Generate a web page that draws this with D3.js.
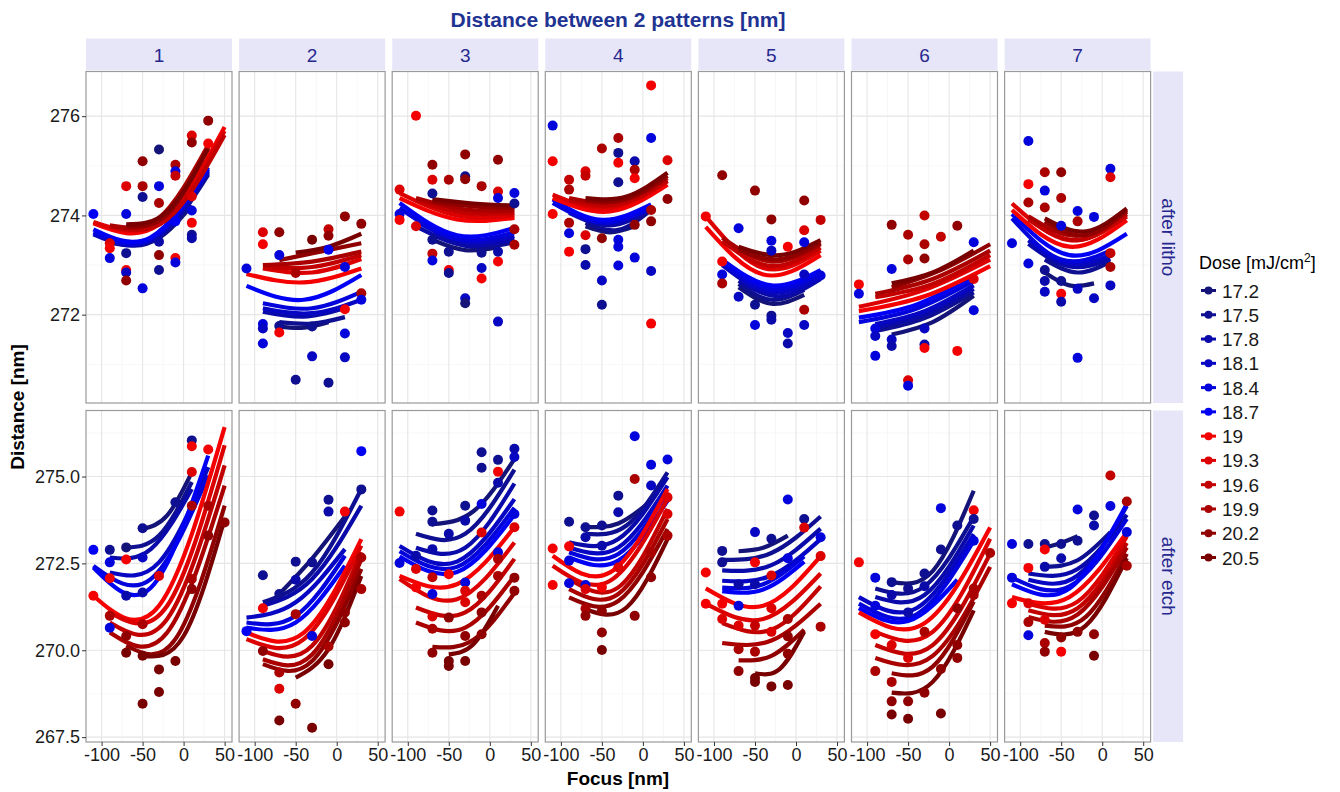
<!doctype html>
<html lang="en">
<head>
<meta charset="UTF-8">
<title>Distance between 2 patterns</title>
<script src="https://d3js.org/d3.v7.min.js"></script>
<style>
  body { margin: 0; background: #fff; }
  text { font-family: "Liberation Sans", Arial, sans-serif; }
</style>
</head>
<body>
<div id="chart"></div>
<script>
// ---- data ----
const doses = ['17.2','17.5','17.8','18.1','18.4','18.7','19','19.3','19.6','19.9','20.2','20.5'];
const doseColors = ['#141478','#0f0f91','#0a0aaa','#0606c3','#0303dc','#0000f5',
                    '#f50000','#dc0000','#c30000','#aa0000','#910000','#780000'];
const fields = ['1','2','3','4','5','6','7'];
const steps = ['after litho','after etch'];
const focusTicks = [-100,-50,0,50];
const focusMinor = [-75,-25,25];
const yTicksLitho = [272,274,276];
const yMinorLitho = [271,273,275];
const yTicksEtch = [267.5,270,272.5,275];
const yMinorEtch = [268.75,271.25,273.75,276.25];

// fitted curves, one row per dose: [focus from, focus to, distance at from, at middle, at to]
const fitL1 = [[-70,10,273.42,273.55,274.2],[-90,30,273.45,273.55,274.82],[-90,30,273.48,273.58,274.86],
  [-110,30,273.62,273.5,274.9],[-110,30,273.66,273.53,274.93],[-110,30,273.72,273.56,274.97],
  [-110,50,273.84,273.82,275.78],[-110,50,273.87,273.87,275.7],[-90,50,273.78,273.92,275.62],
  [-90,30,273.8,273.95,275.42],[-70,30,273.78,274.02,275.38],[-70,30,273.82,274.08,275.35]];
const fitL2 = [[-70,-10,271.76,271.74,271.85],[-70,10,271.85,271.82,271.95],[-90,10,272.06,271.96,272.13],
  [-90,30,272.13,272.03,272.3],[-90,30,272.23,272.13,272.46],[-110,30,272.58,272.3,272.8],
  [-110,30,272.82,272.65,272.93],[-90,30,272.93,272.85,273.12],[-90,30,272.95,272.96,273.2],
  [-90,30,273.0,273.07,273.27],[-70,30,273.1,273.27,273.44],[-50,30,273.25,273.37,273.63]];
const fitL3 = [[-70,10,273.51,273.3,273.36],[-70,30,273.61,273.36,273.46],[-90,30,273.78,273.4,273.52],
  [-90,30,273.88,273.47,273.58],[-110,30,274.15,273.53,273.66],[-110,30,274.25,273.6,273.75],
  [-110,30,274.35,273.92,273.95],[-110,30,274.45,274.0,274.0],[-90,30,274.3,274.05,274.05],
  [-90,30,274.35,274.12,274.1],[-70,30,274.28,274.18,274.15],[-70,30,274.33,274.24,274.2]];
const fitL4 = [[-70,-10,273.78,273.66,273.78],[-70,10,273.85,273.71,274.11],[-90,10,274.05,273.8,274.12],
  [-90,10,274.11,273.85,274.18],[-110,10,274.25,273.86,274.15],[-110,10,274.32,273.91,274.22],
  [-110,30,274.35,274.08,274.62],[-110,30,274.42,274.15,274.69],[-90,30,274.3,274.22,274.7],
  [-90,30,274.35,274.28,274.75],[-70,30,274.3,274.33,274.8],[-70,30,274.35,274.38,274.86]];
const fitL5 = [[-70,10,272.55,272.22,272.4],[-70,10,272.62,272.3,272.5],[-70,30,272.68,272.37,272.72],
  [-90,30,273.0,272.45,272.75],[-90,30,273.05,272.52,272.83],[-90,30,273.11,272.59,272.9],
  [-110,30,273.77,272.81,273.2],[-110,30,273.98,272.94,273.29],[-90,30,273.48,272.98,273.35],
  [-90,30,273.55,273.07,273.42],[-70,30,273.3,273.12,273.45],[-70,30,273.37,273.2,273.5]];
const fitL6 = [[-70,30,271.6,271.85,272.38],[-90,30,271.67,271.93,272.45],[-90,30,271.74,272.0,272.52],
  [-90,30,271.81,272.07,272.59],[-110,30,271.85,272.12,272.68],[-110,30,271.94,272.2,272.77],
  [-110,50,272.07,272.37,272.98],[-110,50,272.16,272.5,273.11],[-90,50,272.35,272.62,273.2],
  [-90,50,272.42,272.72,273.29],[-70,50,272.55,272.9,273.42],[-70,30,272.63,272.85,273.29]];
const fitL7 = [[-70,-10,272.85,272.59,272.63],[-70,10,273.11,272.85,273.07],[-90,10,273.43,272.97,273.12],
  [-90,10,273.5,273.03,273.2],[-110,10,273.94,273.11,273.29],[-110,30,274.03,273.2,273.63],
  [-110,30,274.11,273.37,273.9],[-110,30,274.24,273.5,273.98],[-90,30,273.92,273.5,274.02],
  [-90,30,273.98,273.59,274.07],[-70,30,273.88,273.6,274.1],[-70,30,273.94,273.68,274.14]];

const fitE1 = [[-50,10,273.49,273.88,275.12],[-70,10,272.96,273.3,274.84],[-90,10,272.67,272.91,274.64],
  [-90,30,272.24,272.53,275.27],[-110,30,272.43,272.05,275.03],[-110,30,272.38,271.8,275.6],
  [-110,50,271.57,271.28,276.42],[-90,50,271.09,271.28,275.9],[-90,50,270.8,270.9,275.32],
  [-90,50,270.51,270.51,274.74],[-70,50,270.13,270.32,274.16],[-50,50,269.84,270.41,273.78]];
const fitE2 = [[-70,10,271.62,272.64,273.85],[-90,30,271.38,272.24,274.64],[-90,30,271.28,272.05,274.16],
  [-110,10,270.94,271.38,272.91],[-110,10,270.8,270.99,272.72],[-110,10,270.65,270.8,272.43],
  [-110,30,270.51,270.51,273.2],[-110,30,270.32,270.32,273.01],[-90,30,269.98,270.13,272.82],
  [-90,30,269.74,269.88,272.62],[-90,30,269.6,269.69,272.34],[-50,30,269.21,270.03,272.14]];
const fitE3 = [[-70,30,273.63,274.0,275.5],[-90,30,273.35,273.35,275.2],[-90,30,272.95,272.95,274.8],
  [-110,30,273.0,272.55,274.35],[-110,30,272.85,272.4,274.1],[-110,30,272.7,272.25,273.9],
  [-110,30,272.14,271.9,273.54],[-110,30,272.05,271.47,273.1],[-90,30,271.23,271.09,272.63],
  [-90,30,270.8,270.65,272.14],[-70,30,270.1,270.3,271.65],[-50,10,269.88,270.17,271.28]];
const fitE4 = [[-70,10,273.55,273.65,274.3],[-70,30,273.35,273.59,275.12],[-90,30,273.11,273.2,274.98],
  [-90,30,272.96,272.96,274.74],[-90,30,272.82,272.77,274.55],[-90,30,272.67,272.58,274.31],
  [-110,30,272.72,272.24,274.64],[-110,30,272.43,272.0,274.36],[-90,30,272.05,271.81,274.07],
  [-90,30,271.76,271.62,273.78],[-90,30,271.52,271.42,273.49],[-70,30,271.18,271.23,273.2]];
const fitE5 = [[-70,-10,272.85,272.95,273.3],[-90,30,272.6,272.8,273.85],[-90,30,272.3,272.45,273.5],
  [-90,30,272.0,272.15,273.2],[-90,10,271.8,271.9,272.7],[-90,10,271.7,271.75,272.55],
  [-110,30,271.78,271.28,272.71],[-110,30,271.34,270.9,272.21],[-90,30,270.78,270.59,271.84],
  [-90,30,270.21,270.28,271.34],[-70,10,269.71,269.84,270.59],[-50,10,269.34,269.46,270.53]];
const fitE6 = [[-70,30,271.96,272.28,274.59],[-90,30,271.78,271.84,273.84],[-90,30,271.53,271.59,273.59],
  [-110,30,271.53,271.21,273.34],[-110,30,271.34,271.03,273.15],[-110,10,271.21,270.84,272.03],
  [-110,50,271.09,270.78,273.53],[-90,50,270.53,270.53,273.21],[-90,50,270.15,270.15,272.78],
  [-90,50,269.78,269.84,272.4],[-70,30,269.34,269.53,271.4],[-70,30,268.78,269.09,271.15]];
const fitE7 = [[-70,-30,272.96,273.09,273.28],[-70,10,272.4,272.59,273.4],[-90,30,272.21,272.34,273.9],
  [-90,30,272.03,272.15,274.15],[-110,30,272.09,271.84,273.78],[-110,30,271.9,271.78,274.21],
  [-110,30,271.53,271.53,273.4],[-90,30,271.34,271.4,273.28],[-90,30,271.15,271.21,273.09],
  [-90,30,270.96,271.03,272.96],[-70,30,270.71,270.96,272.78],[-70,30,270.53,270.71,272.65]];

// measured points: [focus, dose index, distance]
const ptsL1 = [[-110,5,274.03],[-30,0,275.33],[-50,10,275.09],[-70,7,274.59],[-50,9,274.59],[-50,1,274.37],
  [-30,4,274.59],[-10,9,275.02],[-10,4,274.89],[-10,8,274.8],[10,7,275.61],[10,10,275.47],[30,10,275.91],
  [30,6,275.45],[-30,9,274.25],[10,4,274.1],[10,6,273.85],[10,1,273.61],[10,2,273.54],[-90,7,273.44],
  [-90,6,273.34],[-90,4,273.14],[-70,4,274.03],[-70,1,273.24],[-70,6,272.9],[-70,3,272.85],[-70,10,272.69],
  [-50,4,272.53],[-30,10,273.2],[-30,1,272.9],[-30,2,273.47],[-10,6,273.14],[-10,4,273.05],[-10,5,273.88],
  [10,7,274.38]];
const ptsL2 = [[10,10,273.98],[30,10,273.83],[-10,8,273.72],[-10,10,273.59],[-30,11,273.51],[-90,7,273.66],
  [-70,10,273.66],[-90,6,273.42],[-70,4,273.2],[-110,4,272.93],[10,4,272.96],[30,9,272.43],[30,4,272.3],
  [10,6,272.11],[-90,4,271.81],[-90,3,271.72],[-70,1,271.77],[-70,6,271.64],[-90,4,271.42],[-30,1,271.76],
  [10,4,271.62],[-30,3,271.16],[10,3,271.14],[-50,1,270.69],[-10,1,270.63],[-10,5,273.31],[-50,9,272.84]];
const ptsL3 = [[-90,6,276.01],[-70,10,275.02],[-30,10,275.23],[10,10,275.12],[-70,7,274.72],[-50,9,274.72],
  [-30,1,274.79],[-30,10,274.73],[-10,9,274.59],[10,7,274.48],[10,4,274.35],[30,4,274.45],[30,1,274.24],
  [-110,7,274.52],[-110,4,274.03],[-110,6,273.91],[-90,7,273.78],[-70,1,274.44],[30,9,273.72],[30,9,273.41],
  [-70,1,273.51],[-70,8,273.23],[-70,4,273.09],[-50,1,273.27],[-50,6,272.9],[-50,1,272.84],[-10,1,273.25],
  [-10,3,272.94],[-10,6,272.73],[10,6,273.07],[10,2,273.27],[-30,3,272.33],[-30,0,272.23],[10,3,271.86]];
const ptsL4 = [[-110,4,275.81],[10,6,276.62],[10,4,275.56],[-30,9,275.56],[-50,9,275.35],[-30,1,275.26],
  [-30,6,275.06],[-10,2,275.09],[-10,9,274.92],[-110,6,275.09],[30,7,275.11],[-70,7,274.89],[-70,8,274.8],
  [-90,8,274.72],[-90,9,274.52],[-10,6,274.75],[-30,1,274.67],[30,10,274.33],[10,9,274.11],[10,10,273.88],
  [-110,6,274.03],[-90,9,273.85],[-90,4,273.64],[-10,10,273.81],[-70,7,273.6],[-50,10,273.54],[-30,4,273.51],
  [-30,4,273.37],[-90,6,273.27],[-70,1,273.32],[-70,2,273.0],[-30,4,272.99],[-10,4,273.15],[10,3,272.88],
  [-50,3,272.69],[-50,1,272.2],[10,6,271.82]];
const ptsL5 = [[-90,10,274.81],[-50,10,274.5],[10,10,274.3],[-30,10,273.92],[30,8,273.91],[-110,6,273.98],
  [-70,4,273.74],[10,7,273.7],[-30,4,273.49],[10,4,273.46],[-10,6,273.37],[-30,3,273.29],[30,4,272.79],
  [10,3,272.81],[-90,6,273.07],[-90,4,272.81],[-90,9,272.63],[-70,3,272.36],[-50,1,272.2],[-30,1,271.98],
  [-30,2,271.9],[-50,4,271.79],[10,9,272.1],[10,3,271.79],[-10,3,271.63],[-10,2,271.42]];
const ptsL6 = [[-30,8,274.0],[-70,10,273.81],[-50,9,273.61],[10,10,273.79],[-10,8,273.57],[-30,9,273.42],
  [-50,9,273.11],[-30,10,273.13],[30,4,273.46],[-70,4,272.92],[-110,6,272.61],[-110,4,272.42],[30,7,272.72],
  [-90,4,271.72],[-90,3,271.57],[-70,3,271.5],[-70,2,271.37],[-30,3,271.72],[-30,2,271.4],[-90,4,271.17],
  [30,4,272.09],[10,6,271.27],[-30,6,271.33],[-50,7,270.68],[-50,4,270.57]];
const ptsL7 = [[-90,4,275.5],[10,4,274.94],[10,7,274.77],[-70,9,274.87],[-50,10,274.87],[-90,6,274.63],
  [-70,4,274.5],[-50,9,274.35],[-90,9,274.26],[-70,9,274.16],[-30,4,274.09],[-10,4,273.97],[-30,9,273.88],
  [-50,4,273.79],[-110,4,273.44],[10,8,273.24],[-90,4,273.03],[10,9,272.96],[-70,1,272.9],[-70,2,272.68],
  [-50,1,272.68],[10,3,272.59],[-70,3,272.46],[-50,6,272.42],[-50,2,272.26],[-30,3,272.52],[-10,3,272.33],
  [-30,4,271.13]];

const ptsE1 = [[-110,5,272.89],[-90,1,272.89],[-70,0,272.96],[-70,6,272.61],[-90,4,272.53],[-50,1,273.51],
  [-50,3,272.67],[-90,6,272.07],[-110,6,271.57],[-70,2,271.57],[-50,2,271.66],[-90,4,270.65],[-90,9,270.99],
  [-70,10,270.41],[-70,11,269.93],[-50,11,269.84],[-30,11,269.45],[-10,11,269.69],[-30,11,268.8],
  [-50,11,268.46],[10,1,276.04],[10,6,275.87],[30,6,275.78],[10,7,275.13],[-10,1,274.26],[10,9,274.16],
  [30,9,274.16],[30,10,273.3],[50,10,273.68],[10,10,271.76],[10,9,272.05],[-30,7,272.14],[-50,9,270.75]];
const ptsE2 = [[30,5,275.73],[30,1,274.63],[-10,1,274.33],[-10,2,273.99],[10,6,273.99],[-50,1,272.55],
  [-30,1,272.53],[-90,1,272.16],[-50,2,272.03],[-70,1,271.62],[-90,6,271.21],[-110,5,270.55],[-50,9,271.04],
  [10,10,271.09],[10,10,270.8],[30,9,271.76],[30,9,272.67],[-10,9,270.11],[-10,11,269.6],[-70,7,268.89],
  [-50,10,268.46],[-70,11,267.98],[-30,11,267.77],[-70,9,269.36],[-90,10,269.98],[-30,4,270.41]];
const ptsE3 = [[-110,6,273.99],[-70,1,274.02],[-70,1,273.7],[-10,1,275.7],[-10,1,275.25],[10,1,275.48],
  [10,6,275.14],[30,2,275.8],[30,3,275.56],[-30,1,274.16],[-30,2,273.73],[-10,4,274.21],[10,2,274.82],
  [-50,2,273.35],[-70,2,272.91],[-90,2,272.72],[-110,4,272.51],[-10,7,273.39],[30,4,273.92],[30,7,273.54],
  [10,4,272.82],[-90,7,272.34],[-50,6,272.19],[-70,8,272.1],[-30,4,271.95],[-90,6,271.81],[-70,4,271.62],
  [-30,7,271.71],[10,9,272.63],[10,9,272.14],[30,10,272.09],[30,10,271.71],[-10,9,271.57],[-30,7,271.38],
  [-10,10,271.09],[-70,7,270.97],[-50,10,270.94],[-70,9,270.62],[-30,10,270.41],[-10,10,270.46],
  [-70,10,269.93],[-50,11,269.69],[-30,11,269.69],[-50,11,269.55]];
const ptsE4 = [[-10,4,276.16],[10,4,275.34],[30,4,275.49],[-10,9,274.93],[10,3,274.74],[-30,1,274.45],
  [-30,2,273.97],[-90,1,273.7],[-70,1,273.54],[-50,1,273.59],[-70,2,273.25],[-50,2,273.01],[-110,6,272.93],
  [-90,6,272.99],[-90,4,272.58],[-110,6,271.88],[-90,4,271.93],[-70,4,271.88],[30,7,274.4],[30,7,273.92],
  [30,9,273.3],[10,9,272.82],[10,10,272.1],[-70,7,271.76],[-50,6,271.81],[-70,9,271.2],[-70,10,270.99],
  [-50,10,271.13],[-10,10,270.99],[-50,10,270.51],[-50,11,270.01],[-30,7,272.38]];
const ptsE5 = [[-10,4,274.34],[-50,3,273.4],[-30,1,273.21],[10,1,273.78],[10,7,273.53],[30,4,273.25],
  [-90,1,272.86],[-10,4,272.65],[-110,6,272.24],[-90,1,272.53],[-50,6,272.53],[-70,2,271.9],[-50,2,271.9],
  [-30,7,272.15],[30,7,272.71],[-110,6,271.34],[-90,6,271.34],[-70,4,271.28],[-30,7,271.21],[-90,7,270.9],
  [-70,7,270.71],[-50,8,270.71],[-10,9,270.9],[30,9,270.68],[-30,7,270.53],[-10,10,270.4],[-70,9,270.03],
  [-50,9,269.96],[-10,10,269.9],[-70,10,269.4],[-50,11,269.2],[-50,11,269.09],[-30,11,268.96],[-10,11,269.0]];
const ptsE6 = [[-110,6,272.53],[-10,4,274.09],[30,6,274.03],[30,1,273.78],[30,4,273.15],[10,1,273.59],
  [-10,1,272.9],[50,9,272.8],[-30,1,272.21],[-90,4,272.09],[-70,1,271.96],[-50,1,271.78],[-30,2,271.84],
  [-70,2,271.59],[-90,4,271.28],[-50,2,271.09],[30,9,271.78],[30,9,271.59],[10,10,271.21],[-90,6,270.46],
  [-70,7,270.15],[-50,7,269.78],[-90,9,269.4],[-70,9,269.09],[-30,9,270.53],[10,10,270.15],[10,10,269.78],
  [-10,10,269.46],[-70,10,268.53],[-50,10,268.53],[-70,11,268.15],[-50,11,268.03],[-10,11,268.18],
  [-30,10,268.78]];
const ptsE7 = [[10,8,275.03],[10,4,274.15],[30,9,274.28],[-30,4,274.05],[-10,1,273.88],[-10,2,273.59],
  [30,4,273.4],[-90,1,273.06],[-110,4,273.06],[-70,1,273.06],[-50,1,273.06],[-70,6,272.9],[-30,1,273.15],
  [-50,2,272.65],[-90,6,272.37],[-110,4,272.09],[-70,2,272.4],[30,9,272.43],[-110,6,271.35],[-90,7,271.35],
  [-70,7,270.88],[-90,9,270.81],[-90,4,270.43],[-50,10,270.37],[-30,10,270.53],[-10,10,270.46],
  [-70,9,270.21],[-70,10,269.96],[-50,6,269.96],[-10,11,269.84]];

const fitRows = [[fitL1,fitL2,fitL3,fitL4,fitL5,fitL6,fitL7],[fitE1,fitE2,fitE3,fitE4,fitE5,fitE6,fitE7]];
const ptRows = [[ptsL1,ptsL2,ptsL3,ptsL4,ptsL5,ptsL6,ptsL7],[ptsE1,ptsE2,ptsE3,ptsE4,ptsE5,ptsE6,ptsE7]];

// ---- layout ----
const width = 1340, height = 792;
const panelLeft = 86, panelW = 146, panelStep = 153.1, panelH = 331.5;
const rowTop = [71.5, 410.5];
const yDomains = [[270.22, 276.9], [267.36, 276.9]];
const focusDomain = [-119, 59];
const stripBlue = '#26288f';

const svg = d3.select('#chart').append('svg')
    .attr('width', width).attr('height', height);
svg.append('rect').attr('width', width).attr('height', height).attr('fill', '#fff');

const line = d3.line().curve(d3.curveNatural);

function styleAxis(g) {
    g.select('.domain').remove();
    g.selectAll('.tick line').attr('stroke', '#333').attr('stroke-width', 1);
    g.selectAll('.tick text').attr('fill', '#1a1a1a').style('font-size', '18px')
        .style('font-family', '"Liberation Sans", Arial, sans-serif');
}

steps.forEach(function(step, r) {
    const top = rowTop[r];
    const y = d3.scaleLinear().domain(yDomains[r]).range([top + panelH, top]);
    const yMajor = r === 0 ? yTicksLitho : yTicksEtch;
    const yMinor = r === 0 ? yMinorLitho : yMinorEtch;

    fields.forEach(function(field, c) {
        const x0 = panelLeft + c * panelStep;
        const x = d3.scaleLinear().domain(focusDomain).range([x0, x0 + panelW]);
        const g = svg.append('g');

        g.append('rect').attr('x', x0).attr('y', top).attr('width', panelW).attr('height', panelH)
            .attr('fill', '#fff');

        // grid
        g.selectAll('.vmin').data(focusMinor).join('line')
            .attr('x1', d => x(d)).attr('x2', d => x(d)).attr('y1', top).attr('y2', top + panelH)
            .attr('stroke', '#f3f3f3').attr('stroke-width', 0.7);
        g.selectAll('.hmin').data(yMinor).join('line')
            .attr('x1', x0).attr('x2', x0 + panelW).attr('y1', d => y(d)).attr('y2', d => y(d))
            .attr('stroke', '#f3f3f3').attr('stroke-width', 0.7);
        g.selectAll('.vmaj').data(focusTicks).join('line')
            .attr('x1', d => x(d)).attr('x2', d => x(d)).attr('y1', top).attr('y2', top + panelH)
            .attr('stroke', '#e6e6e6').attr('stroke-width', 1.1);
        g.selectAll('.hmaj').data(yMajor).join('line')
            .attr('x1', x0).attr('x2', x0 + panelW).attr('y1', d => y(d)).attr('y2', d => y(d))
            .attr('stroke', '#e6e6e6').attr('stroke-width', 1.1);

        // fitted curves, one per dose
        fitRows[r][c].forEach(function(f, k) {
            const pts = [[x(f[0]), y(f[2])], [x((f[0] + f[1]) / 2), y(f[3])], [x(f[1]), y(f[4])]];
            g.append('path').attr('d', line(pts))
                .attr('fill', 'none').attr('stroke', doseColors[k]).attr('stroke-width', 4.2);
        });

        // measured points
        g.selectAll('circle').data(ptRows[r][c]).join('circle')
            .attr('cx', d => x(d[0])).attr('cy', d => y(d[2])).attr('r', 5)
            .attr('fill', d => doseColors[d[1]]);

        g.append('rect').attr('x', x0).attr('y', top).attr('width', panelW).attr('height', panelH)
            .attr('fill', 'none').attr('stroke', '#9a9a9a').attr('stroke-width', 1.2);

        // top strips
        if (r === 0) {
            svg.append('rect').attr('x', x0).attr('y', 38.5).attr('width', panelW).attr('height', 32)
                .attr('fill', '#e6e6f8');
            svg.append('text').attr('x', x0 + panelW / 2).attr('y', 61.5).attr('text-anchor', 'middle')
                .attr('fill', stripBlue).style('font-size', '19px').text(field);
        }
        // bottom axis
        if (r === 1) {
            svg.append('g').attr('transform', 'translate(0,' + (top + panelH) + ')')
                .call(d3.axisBottom(x).tickValues(focusTicks).tickSize(4).tickPadding(2)
                    .tickFormat(d => String(d)))
                .call(styleAxis);
        }
        // left axis
        if (c === 0) {
            svg.append('g').attr('transform', 'translate(' + x0 + ',0)')
                .call(d3.axisLeft(y).tickValues(yMajor).tickSize(4).tickPadding(2)
                    .tickFormat(r === 0 ? d3.format('d') : d3.format('.1f')))
                .call(styleAxis);
        }
    });

    // right strip
    const sx = panelLeft + 6 * panelStep + panelW + 2.5;
    svg.append('rect').attr('x', sx).attr('y', top).attr('width', 30).attr('height', panelH)
        .attr('fill', '#e6e6f8');
    svg.append('text')
        .attr('transform', 'translate(' + (sx + 9) + ',' + (top + panelH / 2) + ') rotate(90)')
        .attr('text-anchor', 'middle').attr('fill', stripBlue).style('font-size', '19px').text(step);
});

// titles
svg.append('text').attr('x', 618).attr('y', 27).attr('text-anchor', 'middle')
    .attr('fill', '#1f3393').style('font-size', '21px').style('font-weight', 'bold')
    .text('Distance between 2 patterns [nm]');
svg.append('text').attr('x', 618).attr('y', 785).attr('text-anchor', 'middle')
    .attr('fill', '#000').style('font-size', '19px').style('font-weight', 'bold').text('Focus [nm]');
svg.append('text').attr('transform', 'translate(24,407) rotate(-90)').attr('text-anchor', 'middle')
    .attr('fill', '#000').style('font-size', '19px').style('font-weight', 'bold').text('Distance [nm]');

// legend
const legend = svg.append('g');
const lt = legend.append('text').attr('x', 1199).attr('y', 269).attr('fill', '#000').style('font-size', '18px');
lt.append('tspan').text('Dose [mJ/cm');
lt.append('tspan').attr('dy', -7).style('font-size', '12px').text('2');
lt.append('tspan').attr('dy', 7).text(']');

const ly = d3.scalePoint().domain(doses).range([290.5, 557.5]);
doses.forEach(function(d, i) {
    const yy = ly(d);
    legend.append('line').attr('x1', 1201).attr('x2', 1216).attr('y1', yy).attr('y2', yy)
        .attr('stroke', doseColors[i]).attr('stroke-width', 3);
    legend.append('circle').attr('cx', 1208.5).attr('cy', yy).attr('r', 4).attr('fill', doseColors[i]);
    legend.append('text').attr('x', 1222).attr('y', yy + 7).attr('fill', '#1a1a1a')
        .style('font-size', '19px').text(d);
});
</script>
</body>
</html>
